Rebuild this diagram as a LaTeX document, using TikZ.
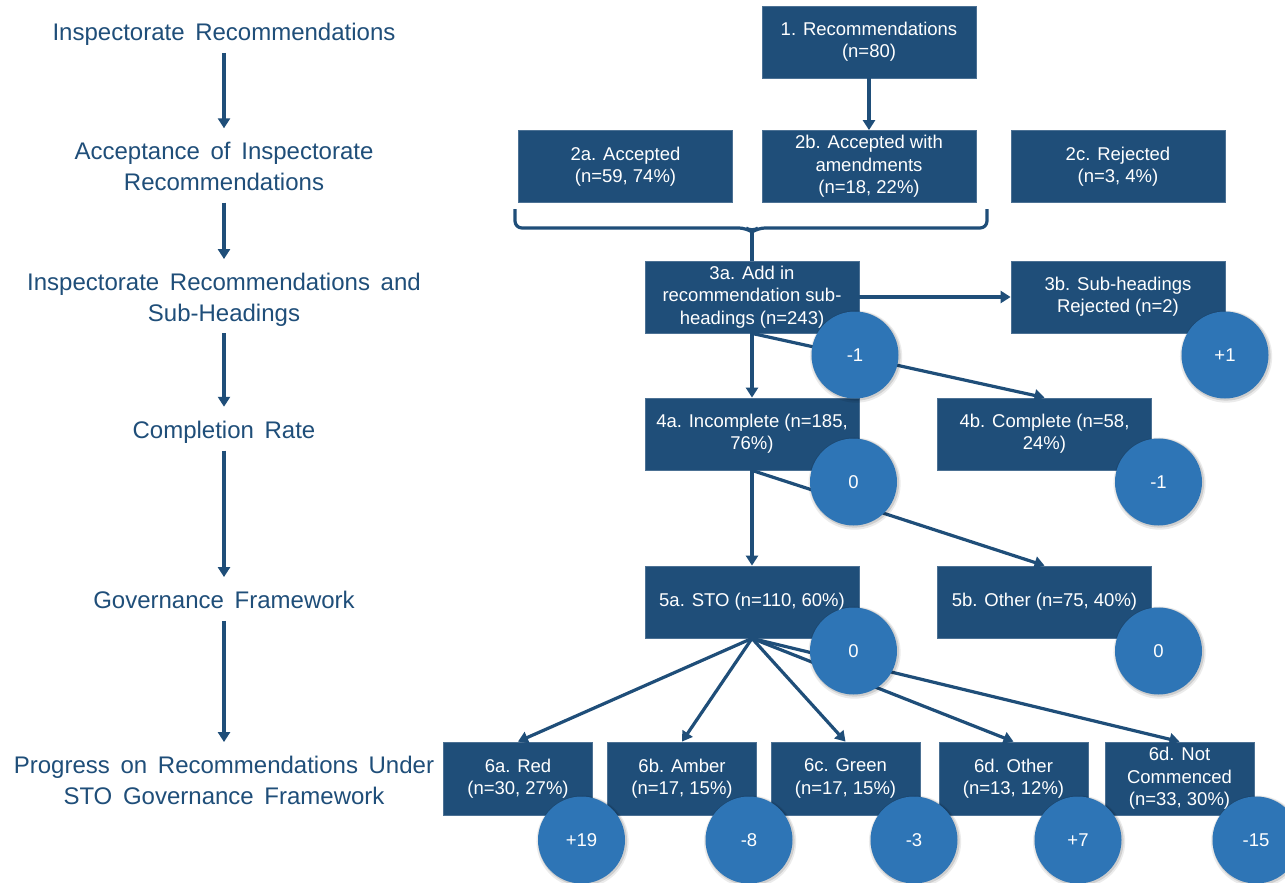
\documentclass[tikz,border=0pt]{standalone}
\usepackage{fontspec}
\setmainfont{Liberation Sans}
\newfontfamily\labfont[WordSpace=1.6]{Liberation Sans}
\usetikzlibrary{arrows.meta,shadows}
\definecolor{boxblue}{HTML}{1F4E79}
\definecolor{circblue}{HTML}{2E75B6}
\definecolor{labblue}{HTML}{1F4E79}
\begin{document}
\begin{tikzpicture}[x=1pt,y=-1pt,
  lab/.style={inner sep=0pt, align=center, text=labblue, font=\labfont\fontsize{24}{30.5}\selectfont},
  box/.style={fill=boxblue, draw=boxblue!80!white, line width=0.8pt, text=white, minimum width=214pt, minimum height=72pt, inner sep=0pt, align=center, font=\fontsize{18.5}{22.4}\selectfont},
  sbox/.style={box, minimum width=149pt, minimum height=73pt},
  circ/.style={circle, fill=circblue, minimum size=87pt, inner sep=0pt, text=white, font=\fontsize{18.5}{22}\selectfont,
    general shadow={fill=black, opacity=0.08, shadow scale=1.06, shadow xshift=1pt, shadow yshift=-1.5pt},
    general shadow={fill=black, opacity=0.12, shadow scale=1.025, shadow xshift=1pt, shadow yshift=-1pt}},
  arr/.style={draw=boxblue, line width=3.2pt, -{Triangle[width=12pt,length=10pt]}},
  lnk/.style={draw=boxblue, line width=3.2pt},
  larr/.style={arr, shorten <=3pt, shorten >=10pt},
]
\fill[white] (0,0) rectangle (1285,883);
\useasboundingbox (0,0) rectangle (1285,883);

% left column
\node[lab] (l1) at (224,34.5) {Inspectorate Recommendations\strut};
\node[lab] (l2) at (224,169) {Acceptance of Inspectorate\strut\\Recommendations\strut};
\node[lab] (l3) at (224,299.75) {Inspectorate Recommendations and\strut\\Sub-Headings\strut};
\node[lab] (l4) at (224,432.2) {Completion Rate\strut};
\node[lab] (l5) at (224,602.5) {Governance Framework\strut};
\node[lab] (l6) at (224,782.75) {Progress on Recommendations Under\strut\\STO Governance Framework\strut};
\draw[larr] (l1) -- (l2);
\draw[larr] (l2) -- (l3);
\draw[larr] (l3) -- (l4);
\draw[larr] (l4) -- (l5);
\draw[larr] (l5) -- (l6);

% boxes
\node[box] (b1) at (869,42) {1. Recommendations\\(n=80)};
\node[box] (b2a) at (625.5,166.5) {2a. Accepted\\(n=59, 74\%)};
\node[box] (b2b) at (869,166.5) {2b. Accepted with\\amendments\\(n=18, 22\%)};
\node[box] (b2c) at (1118,166.5) {2c. Rejected\\(n=3, 4\%)};
\node[box] (b3a) at (752,297) {3a. Add in\\recommendation sub-\\headings (n=243)};
\node[box] (b3b) at (1118,297) {3b. Sub-headings\\Rejected (n=2)};
\node[box] (b4a) at (752,434) {4a. Incomplete (n=185,\\76\%)};
\node[box] (b4b) at (1044.5,434) {4b. Complete (n=58,\\24\%)};
\node[box] (b5a) at (752,602) {5a. STO (n=110, 60\%)};
\node[box] (b5b) at (1044.5,602) {5b. Other (n=75, 40\%)};
\node[sbox] (b6a) at (518,778.5) {6a. Red\\(n=30, 27\%)};
\node[sbox] (b6b) at (682,778.5) {6b. Amber\\(n=17, 15\%)};
\node[sbox] (b6c) at (845.5,778.5) {6c. Green\\(n=17, 15\%)};
\node[sbox] (b6d) at (1013.5,778.5) {6d. Other\\(n=13, 12\%)};
\node[sbox] (b6e) at (1179.5,778.5) {6d. Not\\Commenced\\(n=33, 30\%)};

% connectors
\draw[arr] (b1) -- (b2b);
\coordinate (cusp) at (752,232);
\draw[lnk, rounded corners=7pt] (515,209) -- (515,228) -- (746,228) -- (cusp) -- (758,228) -- (987,228) -- (987,209);
\draw[lnk] (cusp) -- (b3a.north);
\draw[arr] (b3a) -- (b3b);
\draw[arr] (b3a) -- (b4a);
\draw[arr] (b3a.south) -- (b4b.north);
\draw[arr] (b4a) -- (b5a);
\draw[arr] (b4a.south) -- (b5b.north);
\draw[arr] (b5a.south) -- (b6a.north);
\draw[arr] (b5a.south) -- (b6b.north);
\draw[arr] (b5a.south) -- (b6c.north);
\draw[arr] (b5a.south) -- (b6d.north);
\draw[arr] (b5a.south) -- (b6e.north);

% circles
\node[circ] (c3a) at (855,355) {-1};
\node[circ] (c3b) at (1225,355) {+1};
\node[circ] (c4a) at (853.5,482) {0};
\node[circ] (c4b) at (1158.5,482) {-1};
\node[circ] (c5a) at (853.5,651) {0};
\node[circ] (c5b) at (1158.5,651) {0};
\node[circ] (c6a) at (581.5,840) {+19};
\node[circ] (c6b) at (749,840) {-8};
\node[circ] (c6c) at (914,840) {-3};
\node[circ] (c6d) at (1078,840) {+7};
\node[circ] (c6e) at (1256,840) {-15};
\end{tikzpicture}
\end{document}
